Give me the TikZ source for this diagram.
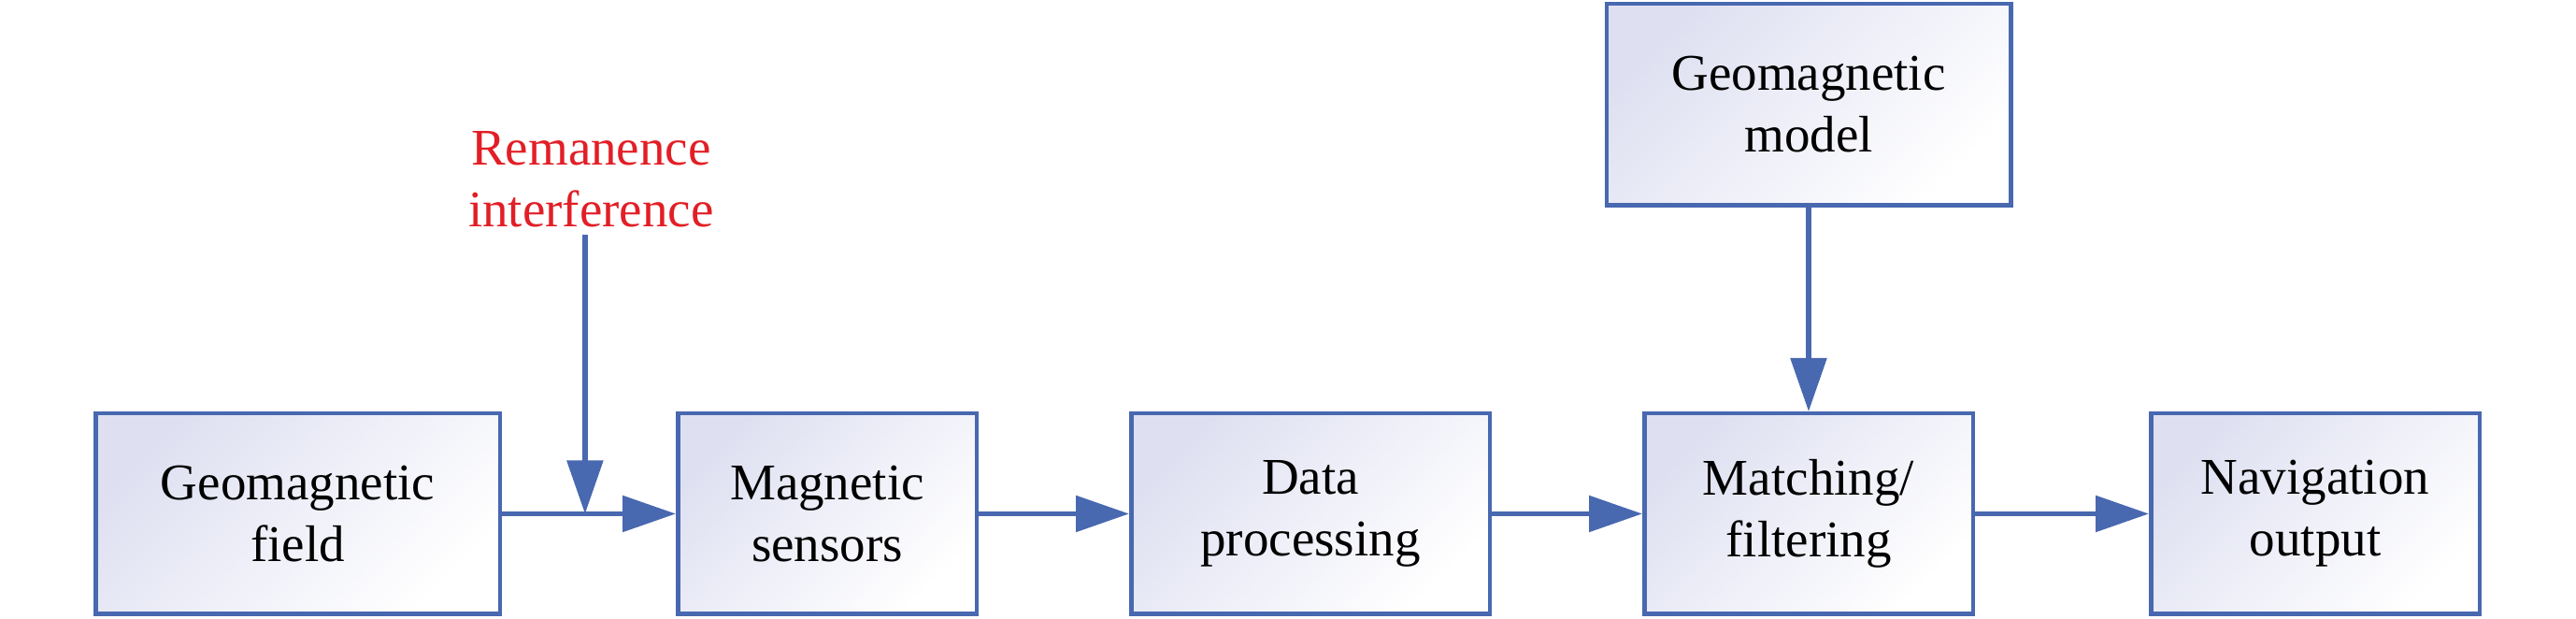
\documentclass[tikz,border=0pt]{standalone}
\usepackage{fontspec}
\setmainfont{Liberation Serif}
\usepackage{xcolor}
\usepackage{tikz}
\usetikzlibrary{arrows.meta,positioning,calc}
\definecolor{boxblue}{RGB}{72,104,176}
\definecolor{boxtint}{RGB}{222,224,241}
\definecolor{remred}{RGB}{226,30,38}
\tikzset{%
       block/.style = { draw=boxblue, line width=0.045cm, top color=boxtint, bottom color=white, shading angle=45,
                        minimum height=2.145cm, align=center, inner sep=0pt, font=\fontsize{15.65}{18.8}\selectfont },
        flow/.style = { draw=boxblue, line width=0.055cm, -{Triangle[length=0.57cm,width=0.38cm]} },
        note/.style = { text=remred, align=center, inner sep=0pt, font=\fontsize{15.65}{18.8}\selectfont }
}
\begin{document}
\begin{tikzpicture}
  \useasboundingbox (0,0) rectangle (27.56,6.62);

  \node[block, minimum width=4.325cm] (field) at (3.185,1.125) {Geomagnetic\\field};
  \node[block, minimum width=3.195cm, right=1.86cm of field] (sensor) {Magnetic\\sensors};
  \node[block, minimum width=3.835cm, right=1.61cm of sensor] (proc) {Data\\processing};
  \node[block, minimum width=3.515cm, right=1.61cm of proc] (match) {Matching/\\filtering};
  \node[block, minimum width=3.515cm, right=1.86cm of match] (out) {Navigation\\output};
  \node[block, minimum width=4.325cm, minimum height=2.155cm, above=2.18cm of match] (model) {Geomagnetic\\model};

  \coordinate (join) at ($(field.east)!0.478!(sensor.west)$);
  \coordinate[above=2.985cm of join] (rem);
  \node[note, above=0.07cm of rem, xshift=0.065cm] (remtext) {Remanence\\interference};

  \draw[flow] (field) -- (sensor);
  \draw[flow] (sensor) -- (proc);
  \draw[flow] (proc) -- (match);
  \draw[flow] (match) -- (out);
  \draw[flow] (model) -- (match);
  \draw[flow] (rem) -- (join);
\end{tikzpicture}
\end{document}
